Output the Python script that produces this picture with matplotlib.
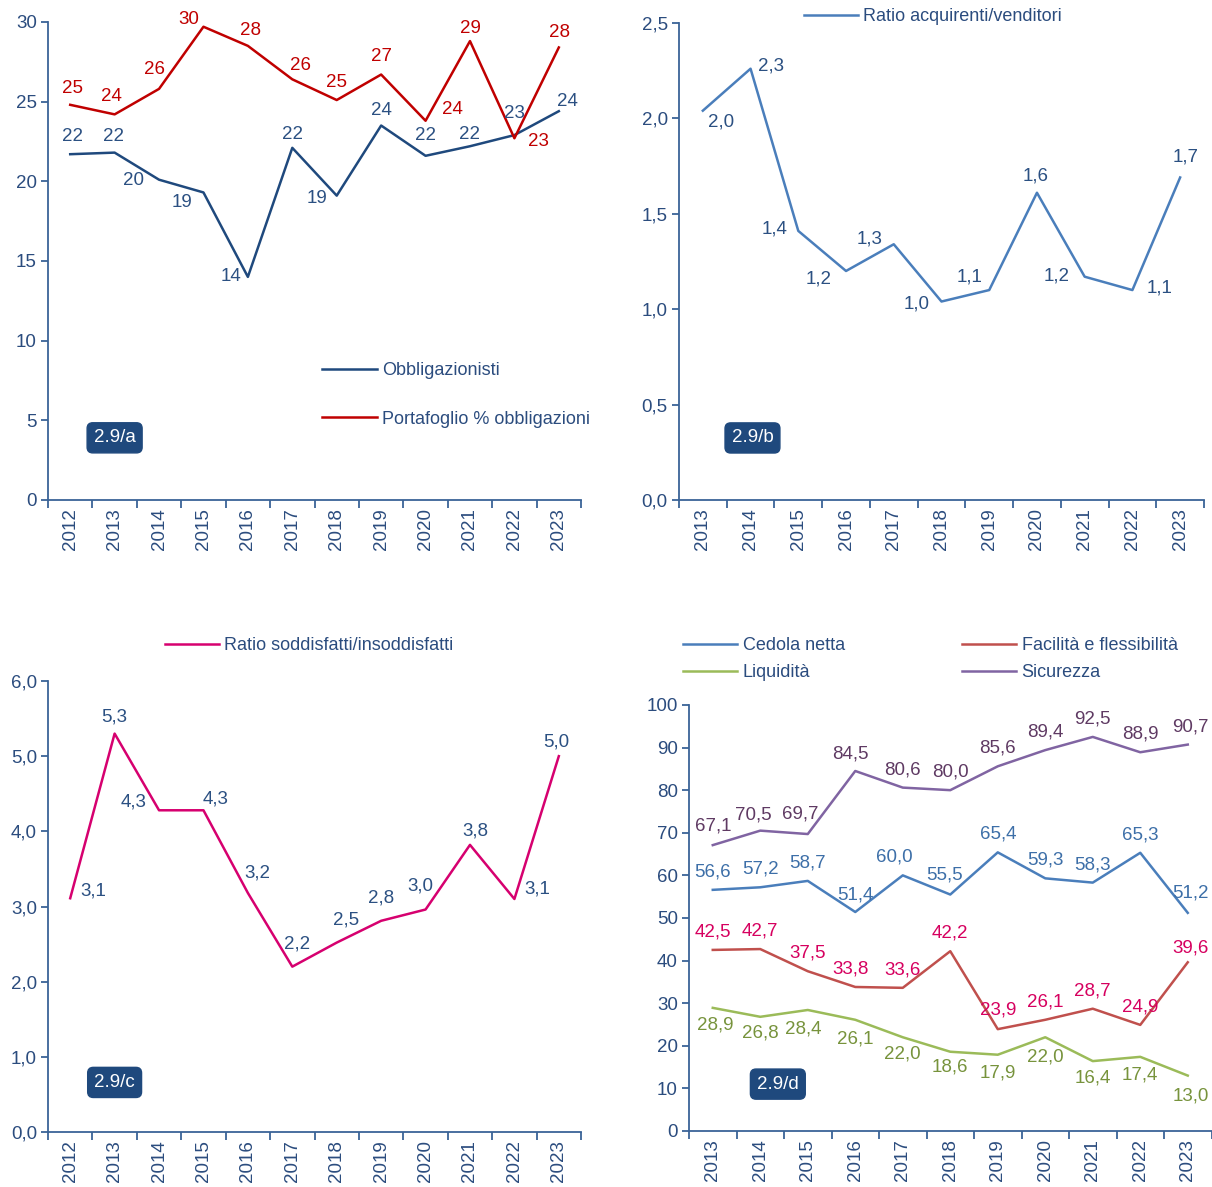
import matplotlib
matplotlib.use('Agg')
import matplotlib.pyplot as plt
from matplotlib.lines import Line2D
from matplotlib import font_manager

names = set(f.name for f in font_manager.fontManager.ttflist)
fam = ['Liberation Sans Narrow'] if 'Liberation Sans Narrow' in names else []
plt.rcParams['font.family'] = fam + ['Liberation Sans', 'DejaVu Sans']

# ---- data ----
years_a = ['2012', '2013', '2014', '2015', '2016', '2017', '2018', '2019', '2020', '2021', '2022', '2023']
obbligazionisti = [21.7, 21.8, 20.1, 19.3, 14.0, 22.1, 19.1, 23.5, 21.6, 22.2, 22.9, 24.4]
portafoglio = [24.8, 24.2, 25.8, 29.7, 28.5, 26.4, 25.1, 26.7, 23.8, 28.8, 22.7, 28.4]

years_b = ['2013', '2014', '2015', '2016', '2017', '2018', '2019', '2020', '2021', '2022', '2023']
ratio_acq = [2.04, 2.26, 1.41, 1.20, 1.34, 1.04, 1.10, 1.61, 1.17, 1.10, 1.69]

years_c = years_a
ratio_sodd = [3.11, 5.30, 4.28, 4.28, 3.18, 2.20, 2.52, 2.81, 2.96, 3.82, 3.10, 5.00]

years_d = years_b
cedola = [56.6, 57.2, 58.7, 51.4, 60.0, 55.5, 65.4, 59.3, 58.3, 65.3, 51.2]
facilita = [42.5, 42.7, 37.5, 33.8, 33.6, 42.2, 23.9, 26.1, 28.7, 24.9, 39.6]
liquidita = [28.9, 26.8, 28.4, 26.1, 22.0, 18.6, 17.9, 22.0, 16.4, 17.4, 13.0]
sicurezza = [67.1, 70.5, 69.7, 84.5, 80.6, 80.0, 85.6, 89.4, 92.5, 88.9, 90.7]

# ---- style ----
AX = '#3A6397'
TXT = '#2B4C7E'
BADGE = '#1F497D'
FS = 13.5
LFS = 13


def comma(v, d=1):
    return f'{v:.{d}f}'.replace('.', ',')


def setup(ax, cats, ymax, ystep, fmt):
    n = len(cats)
    ax.set_xlim(-0.5, n - 0.5)
    ax.set_ylim(0, ymax)
    for s in ['top', 'right']:
        ax.spines[s].set_visible(False)
    for s in ['left', 'bottom']:
        ax.spines[s].set_color(AX)
        ax.spines[s].set_linewidth(1.3)
    ax.set_xticks([i - 0.5 for i in range(n + 1)])
    ax.set_xticklabels([])
    ax.set_xticks(range(n), minor=True)
    ax.set_xticklabels(cats, minor=True, rotation=90, fontsize=FS, color=TXT)
    ax.tick_params(axis='x', which='major', length=6, color=AX, width=1.3)
    ax.tick_params(axis='x', which='minor', length=0, pad=6)
    ticks = [i * ystep for i in range(int(round(ymax / ystep)) + 1)]
    ax.set_yticks(ticks)
    ax.set_yticklabels([fmt(t) for t in ticks], fontsize=FS, color=TXT)
    ax.tick_params(axis='y', length=5, color=AX, width=1.3, pad=3)


def labels(ax, vals, texts, offs, color):
    for i, (v, t, o) in enumerate(zip(vals, texts, offs)):
        ax.annotate(t, (i, v), xytext=o, textcoords='offset pixels',
                    ha='center', va='center', fontsize=FS, color=color)


def badge(ax, x, y, text):
    ax.text(x, y, text, transform=ax.transAxes, fontsize=FS, color='white',
            ha='center', va='center',
            bbox=dict(boxstyle='round,pad=0.35,rounding_size=0.3', fc=BADGE, ec=BADGE))


def legend(ax, handles, texts, x, y, **kw):
    ax.legend(handles, texts, loc='upper left', bbox_to_anchor=(x, 1 - y / 1187),
              bbox_transform=ax.figure.transFigure, frameon=False, fontsize=LFS,
              labelcolor=TXT, handlelength=3.0, handletextpad=0.3, borderpad=0,
              borderaxespad=0, **kw)


fig = plt.figure(figsize=(12.12, 11.87), dpi=100)

# ---- panel a ----
ax = fig.add_axes([0.0396, 0.5788, 0.4398, 0.4027])
setup(ax, years_a, 30, 5, lambda t: str(int(t)))
ax.plot(range(12), obbligazionisti, color='#1F497D', lw=1.8)
ax.plot(range(12), portafoglio, color='#C00000', lw=1.8)
off_ob = [(2, 18), (-1, 16), (-26, -1), (-21, -10), (-17, 0), (0, 13), (-20, -3),
          (0, 15), (0, 20), (0, 12), (0, 22), (9, 10)]
off_pf = [(2, 16), (-3, 18), (-5, 19), (-15, 7), (3, 15), (8, 14), (0, 18), (0, 18),
          (27, 11), (0, 13), (24, -3), (1, 15)]
labels(ax, obbligazionisti, [str(int(round(v))) for v in obbligazionisti], off_ob, '#2B5082')
labels(ax, portafoglio, [str(int(round(v))) for v in portafoglio], off_pf, '#C00000')
h = [Line2D([], [], color='#1F497D', lw=1.8), Line2D([], [], color='#C00000', lw=1.8)]
legend(ax, h, ['Obbligazionisti', 'Portafoglio % obbligazioni'], 0.266, 362,
       labelspacing=1.75)
badge(ax, 0.125, 0.13, '2.9/a')

# ---- panel b ----
ax = fig.add_axes([0.5602, 0.5788, 0.4332, 0.4019])
setup(ax, years_b, 2.5, 0.5, comma)
ax.plot(range(11), ratio_acq, color='#4A7EBB', lw=1.8)
off_b = [(18, -11), (20, 3), (-24, 2), (-27, -8), (-24, 5), (-25, -2), (-20, 13),
         (-1, 17), (-28, 1), (27, 2), (5, 20)]
labels(ax, ratio_acq, [comma(v) for v in ratio_acq], off_b, '#2B5082')
legend(ax, [Line2D([], [], color='#4A7EBB', lw=1.8)], ['Ratio acquirenti/venditori'],
       0.663, 8)
badge(ax, 0.14, 0.13, '2.9/b')

# ---- panel c ----
ax = fig.add_axes([0.0396, 0.0463, 0.4398, 0.3800])
setup(ax, years_c, 6, 1, comma)
ax.plot(range(12), ratio_sodd, color='#D6006F', lw=1.8)
off_c = [(23, 7), (0, 17), (-25, 8), (12, 11), (9, 20), (5, 23), (9, 23), (0, 23),
         (-5, 24), (5, 14), (23, 10), (-3, 14)]
labels(ax, ratio_sodd, [comma(v) for v in ratio_sodd], off_c, '#2B5082')
legend(ax, [Line2D([], [], color='#D6006F', lw=1.8)], ['Ratio soddisfatti/insoddisfatti'],
       0.136, 637)
badge(ax, 0.125, 0.11, '2.9/c')

# ---- panel d ----
ax = fig.add_axes([0.5685, 0.0472, 0.4311, 0.3589])
setup(ax, years_d, 100, 10, lambda t: str(int(t)))
ax.plot(range(11), cedola, color='#4A7EBB', lw=1.8)
ax.plot(range(11), facilita, color='#C0504D', lw=1.8)
ax.plot(range(11), liquidita, color='#9BBB59', lw=1.8)
ax.plot(range(11), sicurezza, color='#8064A2', lw=1.8)
off_sic = [(0, 19), (-7, 16), (-8, 20), (-5, 17), (0, 18), (0, 18), (0, 18), (0, 18),
           (0, 18), (0, 18), (3, 18)]
off_ced = [(0, 18), (0, 18), (0, 18), (0, 17), (-8, 18), (-6, 20), (0, 18), (0, 18),
           (0, 18), (0, 18), (3, 20)]
off_fac = [(0, 18), (0, 18), (0, 18), (-5, 18), (0, 18), (0, 18), (0, 19), (0, 18),
           (0, 18), (0, 18), (3, 14)]
off_liq = [(2, -17), (0, -16), (-5, -19), (0, -19), (0, -17), (0, -15), (0, -18),
           (0, -20), (0, -17), (0, -18), (3, -20)]
labels(ax, sicurezza, [comma(v) for v in sicurezza], off_sic, '#5F3A63')
labels(ax, cedola, [comma(v) for v in cedola], off_ced, '#3D6FA8')
labels(ax, facilita, [comma(v) for v in facilita], off_fac, '#D6005F')
labels(ax, liquidita, [comma(v) for v in liquidita], off_liq, '#77933C')
h = [Line2D([], [], color='#4A7EBB', lw=1.8), Line2D([], [], color='#9BBB59', lw=1.8),
     Line2D([], [], color='#C0504D', lw=1.8), Line2D([], [], color='#8064A2', lw=1.8)]
legend(ax, h, ['Cedola netta', 'Liquidità', 'Facilità e flessibilità', 'Sicurezza'],
       0.5635, 637, ncol=2, labelspacing=0.55, columnspacing=6.5)
badge(ax, 0.17, 0.11, '2.9/d')

fig.savefig('out.png', dpi=100)
